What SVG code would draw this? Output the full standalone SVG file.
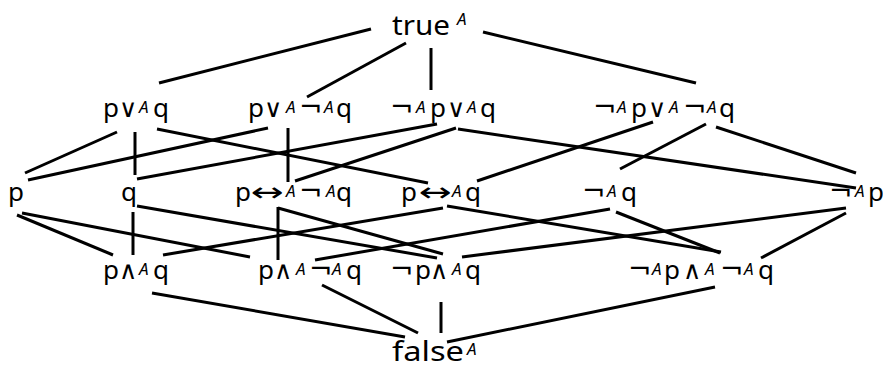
<svg xmlns="http://www.w3.org/2000/svg" width="883" height="368" viewBox="0 0 883 368">
<style>
  .bg { fill: #ffffff; }
  .edge { stroke: #000; stroke-width: 3; fill: none; }
  text { font-family: "Noto Sans", "DejaVu Sans", sans-serif; font-size: 26px; fill: #000; }
  .tf { font-family: "Comic Sans MS", "Noto Sans", "DejaVu Sans", sans-serif; font-size: 28px; }
  .sup { font-family: "Noto Sans", "DejaVu Sans", sans-serif; font-size: 17px; font-style: italic; }
  .neg { font-family: "DejaVu Sans", sans-serif; font-size: 28px; }
  .op { font-family: "DejaVu Sans", sans-serif; font-size: 25px; }
  .arr { font-family: "DejaVu Sans", sans-serif; font-size: 26px; }
</style>
<rect class="bg" x="0" y="0" width="883" height="368"/>

<g id="connectors">
  <!-- true to row 2 -->
  <line class="edge" x1="371" y1="29" x2="159" y2="83"/>
  <line class="edge" x1="406" y1="43" x2="307" y2="97"/>
  <line class="edge" x1="431" y1="48" x2="431" y2="90"/>
  <line class="edge" x1="483" y1="32" x2="696" y2="83"/>
  <!-- row 2 to row 3 -->
  <line class="edge" x1="117" y1="132" x2="25" y2="173"/>
  <line class="edge" x1="135" y1="132" x2="135" y2="175"/>
  <line class="edge" x1="157" y1="129" x2="428" y2="183"/>
  <line class="edge" x1="268" y1="128" x2="28" y2="180"/>
  <line class="edge" x1="288" y1="128" x2="288" y2="182"/>
  <line class="edge" x1="437" y1="124" x2="137" y2="179"/>
  <line class="edge" x1="456" y1="128" x2="295" y2="181"/>
  <line class="edge" x1="458" y1="129" x2="856" y2="188"/>
  <line class="edge" x1="653" y1="122" x2="477" y2="181"/>
  <line class="edge" x1="706" y1="124" x2="620" y2="169"/>
  <line class="edge" x1="716" y1="127" x2="856" y2="173"/>
  <!-- row 3 to row 4 -->
  <line class="edge" x1="17" y1="215" x2="113" y2="255"/>
  <line class="edge" x1="22" y1="213" x2="250" y2="257"/>
  <line class="edge" x1="133" y1="212" x2="133" y2="255"/>
  <line class="edge" x1="137" y1="206" x2="437" y2="258"/>
  <line class="edge" x1="278" y1="207" x2="278" y2="260"/>
  <line class="edge" x1="278" y1="208" x2="443" y2="254"/>
  <line class="edge" x1="443" y1="208" x2="163" y2="255"/>
  <line class="edge" x1="447" y1="206" x2="721" y2="252"/>
  <line class="edge" x1="610" y1="209" x2="315" y2="260"/>
  <line class="edge" x1="616" y1="212" x2="720" y2="253"/>
  <line class="edge" x1="846" y1="208" x2="462" y2="257"/>
  <line class="edge" x1="846" y1="213" x2="761" y2="258"/>
  <!-- row 4 to false -->
  <line class="edge" x1="152" y1="293" x2="405" y2="337"/>
  <line class="edge" x1="322" y1="285" x2="418" y2="333"/>
  <line class="edge" x1="441" y1="302" x2="441" y2="333"/>
  <line class="edge" x1="715" y1="287" x2="447" y2="342"/>
</g>

<g id="n-true">
  <text><tspan class="tf" x="392" y="35" textLength="58" lengthAdjust="spacingAndGlyphs">true</tspan><tspan class="sup" x="457" y="25">A</tspan></text>
</g>

<g id="n-p-or-q">
  <text><tspan x="103" y="117">p</tspan><tspan class="op" x="119" y="117">∨</tspan><tspan class="sup" x="139" y="113">A</tspan><tspan x="153" y="117">q</tspan></text>
</g>
<g id="n-p-or-notq">
  <text><tspan x="248" y="117">p</tspan><tspan class="op" x="264" y="117">∨</tspan><tspan class="sup" x="286" y="113">A</tspan><tspan class="neg" x="299" y="117">¬</tspan><tspan class="sup" x="324" y="113">A</tspan><tspan x="336" y="117">q</tspan></text>
</g>
<g id="n-notp-or-q">
  <text><tspan class="neg" x="390" y="117">¬</tspan><tspan class="sup" x="416" y="113">A</tspan><tspan x="430" y="117">p</tspan><tspan class="op" x="447" y="117">∨</tspan><tspan class="sup" x="467" y="113">A</tspan><tspan x="480" y="117">q</tspan></text>
</g>
<g id="n-notp-or-notq">
  <text><tspan class="neg" x="593" y="117">¬</tspan><tspan class="sup" x="617" y="113">A</tspan><tspan x="631" y="117">p</tspan><tspan class="op" x="648" y="117">∨</tspan><tspan class="sup" x="669" y="113">A</tspan><tspan class="neg" x="683" y="117">¬</tspan><tspan class="sup" x="707" y="113">A</tspan><tspan x="719" y="117">q</tspan></text>
</g>

<g id="n-p">
  <text><tspan x="8" y="201">p</tspan></text>
</g>
<g id="n-q">
  <text><tspan x="121" y="201">q</tspan></text>
</g>
<g id="n-p-iff-notq">
  <text><tspan x="235" y="201">p</tspan><tspan class="arr" x="251" y="201" textLength="33" lengthAdjust="spacingAndGlyphs">↔</tspan><tspan class="sup" x="286" y="197">A</tspan><tspan class="neg" x="299" y="201">¬</tspan><tspan class="sup" x="326" y="197">A</tspan><tspan x="336" y="201">q</tspan></text>
</g>
<g id="n-p-iff-q">
  <text><tspan x="401" y="201">p</tspan><tspan class="arr" x="419" y="201" textLength="33" lengthAdjust="spacingAndGlyphs">↔</tspan><tspan class="sup" x="452" y="197">A</tspan><tspan x="465" y="201">q</tspan></text>
</g>
<g id="n-notq">
  <text><tspan class="neg" x="582" y="201">¬</tspan><tspan class="sup" x="607" y="197">A</tspan><tspan x="621" y="201">q</tspan></text>
</g>
<g id="n-notp">
  <text><tspan class="neg" x="829" y="201">¬</tspan><tspan class="sup" x="855" y="197">A</tspan><tspan x="868" y="201">p</tspan></text>
</g>

<g id="n-p-and-q">
  <text><tspan x="103" y="279">p</tspan><tspan class="op" x="119" y="279">∧</tspan><tspan class="sup" x="139" y="275">A</tspan><tspan x="153" y="279">q</tspan></text>
</g>
<g id="n-p-and-notq">
  <text><tspan x="258" y="279">p</tspan><tspan class="op" x="274" y="279">∧</tspan><tspan class="sup" x="296" y="275">A</tspan><tspan class="neg" x="309" y="279">¬</tspan><tspan class="sup" x="332" y="275">A</tspan><tspan x="346" y="279">q</tspan></text>
</g>
<g id="n-notp-and-q">
  <text><tspan class="neg" x="390" y="279">¬</tspan><tspan x="415" y="279">p</tspan><tspan class="op" x="430" y="279">∧</tspan><tspan class="sup" x="452" y="275">A</tspan><tspan x="465" y="279">q</tspan></text>
</g>
<g id="n-notp-and-notq">
  <text><tspan class="neg" x="628" y="279">¬</tspan><tspan class="sup" x="652" y="275">A</tspan><tspan x="664" y="279">p</tspan><tspan class="op" x="683" y="279">∧</tspan><tspan class="sup" x="705" y="275">A</tspan><tspan class="neg" x="720" y="279">¬</tspan><tspan class="sup" x="744" y="275">A</tspan><tspan x="758" y="279">q</tspan></text>
</g>

<g id="n-false">
  <text><tspan class="tf" x="392" y="361" textLength="72" lengthAdjust="spacingAndGlyphs">false</tspan><tspan class="sup" x="467" y="355">A</tspan></text>
</g>
</svg>
